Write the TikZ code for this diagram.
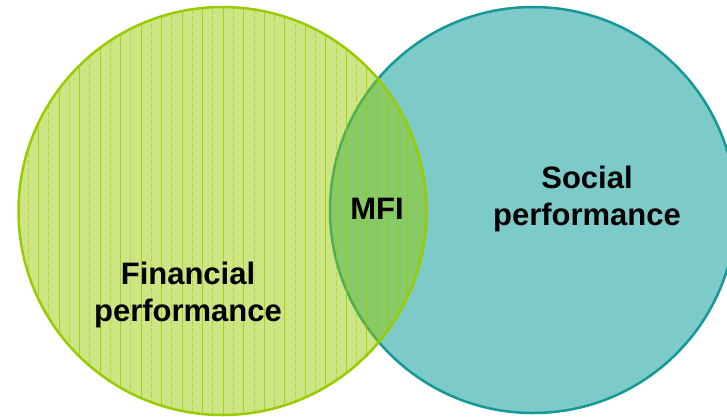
\documentclass[tikz,border=0pt]{standalone}
\usepackage{fontspec}
\setmainfont{Liberation Sans}
\definecolor{tealfill}{RGB}{125,203,200}
\definecolor{tealline}{RGB}{20,152,152}
\definecolor{limefill}{RGB}{150,200,0}
\definecolor{limeline}{RGB}{153,204,0}
\tikzset{
  lbl/.style={inner sep=0pt, align=center, font=\fontsize{31}{37}\selectfont\bfseries},
  stripesolid/.style={limeline, line width=1pt, opacity=0.75},
  stripedash/.style={limeline, line width=1pt, opacity=0.5, dash pattern=on 6pt off 2pt},
}
\begin{document}
\begin{tikzpicture}[x=1pt,y=-1pt]
\useasboundingbox (0,0) rectangle (727,416);
\clip (0,0) rectangle (727,416);
% social circle
\coordinate (sc) at (533,210);
\fill[tealfill] (sc) circle[radius=203];
\draw[tealline, line width=2.5pt] (sc) circle[radius=203];
% financial circle
\coordinate (fc) at (222.5,211);
\fill[limefill, opacity=0.48] (fc) circle[radius=204];
\begin{scope}
  \clip (fc) circle[radius=204];
  \foreach \k in {0,2,...,40} {
    \draw[stripedash] (28.3+10.26*\k,0) -- (28.3+10.26*\k,416);
  }
  \foreach \k in {1,3,...,39} {
    \draw[stripesolid] (28.3+10.26*\k,0) -- (28.3+10.26*\k,416);
  }
\end{scope}
\draw[limeline, line width=2.5pt] (fc) circle[radius=204];
% labels
\node[lbl, anchor=north] (fin) at (188,262) {Financial\\performance};
\node[lbl, anchor=north] (soc) at (587,166) {Social\\performance};
\node[lbl, anchor=north] (mfi) at (377,198) {MFI};
\end{tikzpicture}
\end{document}
